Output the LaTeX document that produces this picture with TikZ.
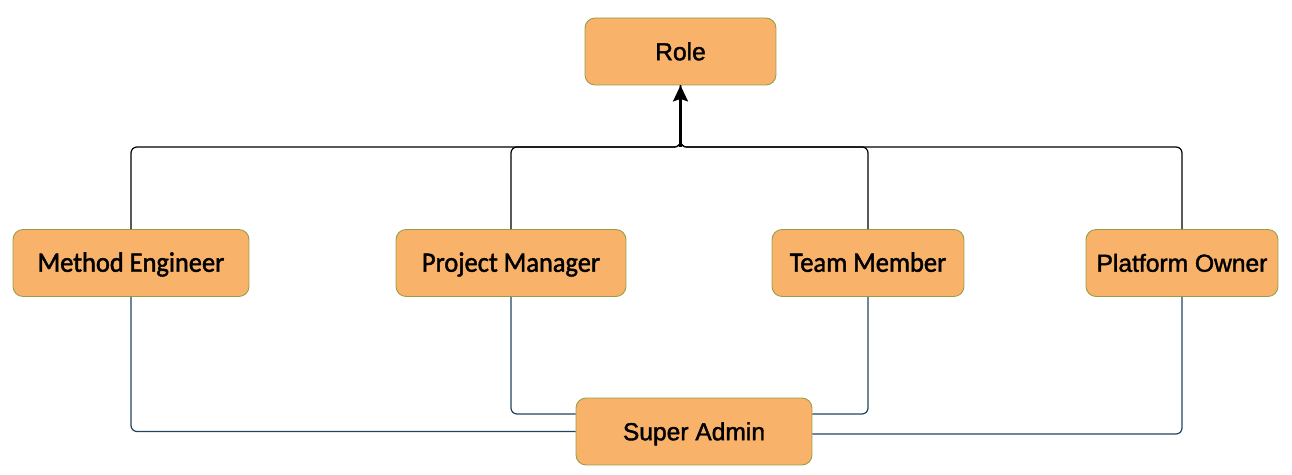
\documentclass[tikz,border=0pt]{standalone}
\usepackage{fontspec}
\setmainfont{Liberation Sans}[FakeBold=1.6]
\newfontfamily\narrowfont{Carlito}[FakeBold=1.6, FakeStretch=0.94]
\usetikzlibrary{arrows.meta}

\definecolor{rolefill}{RGB}{248,178,106}
\definecolor{roleline}{RGB}{150,158,72}
\definecolor{adminline}{RGB}{35,68,93}

\begin{document}
\begin{tikzpicture}[x=0.02cm, y=-0.02cm,
  rolebox/.style={draw=roleline, fill=rolefill, rounded corners=0.2cm, line width=0.5pt,
    minimum height=1.34cm, inner sep=0pt, text height=0.45cm, text depth=0.1cm,
    font=\fontsize{14}{16}\selectfont},
  narrowbox/.style={rolebox, font=\narrowfont\fontsize{16}{18}\selectfont},
  upline/.style={draw=black, line width=0.7pt, rounded corners=0.12cm},
  downline/.style={draw=adminline, line width=0.7pt, rounded corners=0.12cm}]

% Frame
\useasboundingbox (0,0) rectangle (1292,475);

% Top role
\node[rolebox, minimum width=3.82cm] (role) at (680.5,51.5) {Role};

% Middle row
\node[narrowbox, minimum width=4.72cm] (meth) at (131,263) {Method Engineer};
\node[narrowbox, minimum width=4.6cm] (proj) at (511,263) {Project Manager};
\node[narrowbox, minimum width=3.84cm] (team) at (868,263) {Team Member};
\node[rolebox, minimum width=3.84cm] (plat) at (1182,263) {Platform Owner};

% Bottom admin
\node[rolebox, minimum width=4.72cm] (admin) at (694,431.5) {Super Admin};

% Generalisation to Role
\coordinate (bus) at (680.5,147);
\draw[upline] (meth.north) |- (bus) -- (role.south);
\draw[upline] (proj.north) |- (bus) -- (role.south);
\draw[upline] (team.north) |- (bus) -- (role.south);
\draw[upline] (plat.north) |- (bus) -- (role.south);
\draw[line width=1.2pt, -{Stealth[length=0.32cm, width=0.3cm, inset=0.05cm]}] (bus) -- (role.south);

% Links to Super Admin
\draw[downline] (meth.south) |- (admin.west);
\draw[downline] (plat.south) |- ([yshift=-0.05cm]admin.east);
\draw[downline] (proj.south) |- ([yshift=0.35cm]admin.west);
\draw[downline] (team.south) |- ([yshift=0.35cm]admin.east);

\end{tikzpicture}
\end{document}
